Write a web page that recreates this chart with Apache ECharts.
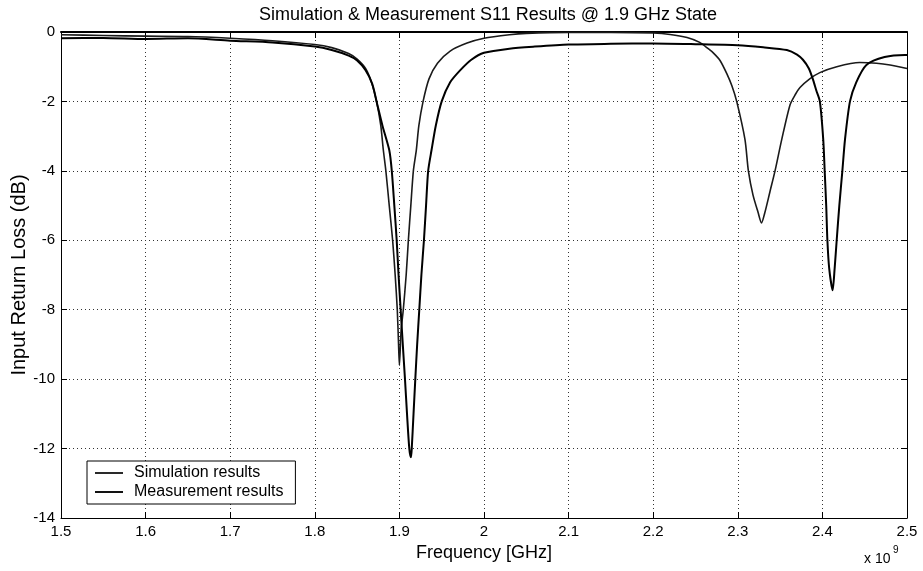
<!DOCTYPE html>
<html>
<head>
<meta charset="utf-8">
<script src="https://cdn.jsdelivr.net/npm/echarts@6/dist/echarts.min.js"></script>
<style>html,body{margin:0;padding:0;background:#fff}#c{width:923px;height:571px}</style>
</head>
<body>
<div id="c"></div>
<script>
// ---- data (frequency in GHz, axis labelled x 10^9 Hz) ----
const titleText = 'Simulation & Measurement S11 Results @ 1.9 GHz State';
const xTicks = [1.5, 1.6, 1.7, 1.8, 1.9, 2.0, 2.1, 2.2, 2.3, 2.4, 2.5];
const yTicks = [0, -2, -4, -6, -8, -10, -12, -14];
const seriesNames = ['Simulation results', 'Measurement results'];

const simFreq = [1.50,1.55,1.60,1.65,1.70,1.75,1.80,1.82,1.84,1.85,1.86,1.867,1.873,1.878,1.881,1.884,1.888,1.892,1.895,1.8975,1.899,1.900,1.902,1.9046,1.908,1.9106,1.9135,1.9165,1.920,1.923,1.928,1.935,1.945,1.96,1.98,2.00,2.03,2.05,2.10,2.15,2.20,2.22,2.24,2.255,2.265,2.271,2.279,2.287,2.293,2.2987,2.3085,2.3125,2.318,2.324,2.328,2.332,2.338,2.344,2.3519,2.3617,2.368,2.3735,2.385,2.397,2.417,2.444,2.464,2.48,2.50];
const simDb = [-0.08,-0.10,-0.12,-0.13,-0.18,-0.25,-0.36,-0.45,-0.62,-0.78,-1.05,-1.45,-2.0,-2.7,-3.4,-4.0,-5.0,-6.0,-7.0,-8.0,-9.0,-9.6,-8.6,-8.0,-7.0,-6.0,-5.0,-4.0,-3.4,-2.7,-2.0,-1.35,-0.9,-0.55,-0.32,-0.18,-0.08,-0.04,-0.01,-0.01,-0.03,-0.07,-0.16,-0.3,-0.48,-0.6,-0.82,-1.2,-1.55,-2.0,-3.1,-4.0,-4.7,-5.2,-5.5,-5.2,-4.6,-4.0,-3.1,-2.1,-1.8,-1.6,-1.35,-1.17,-1.0,-0.88,-0.9,-0.95,-1.05];

const measFreq = [1.50,1.55,1.60,1.65,1.70,1.75,1.80,1.82,1.84,1.85,1.86,1.868,1.873,1.880,1.888,1.891,1.894,1.8968,1.899,1.9015,1.904,1.9066,1.909,1.9117,1.9137,1.9146,1.9167,1.9188,1.921,1.9235,1.926,1.929,1.9315,1.934,1.938,1.943,1.950,1.960,1.972,1.985,2.00,2.03,2.06,2.10,2.15,2.20,2.25,2.30,2.33,2.358,2.37,2.377,2.384,2.389,2.393,2.397,2.401,2.4027,2.4045,2.4059,2.408,2.4121,2.4145,2.4169,2.420,2.4236,2.4267,2.4326,2.44,2.452,2.4735,2.4976,2.50];
const measDb = [-0.18,-0.17,-0.20,-0.18,-0.25,-0.30,-0.42,-0.52,-0.68,-0.82,-1.1,-1.5,-2.0,-2.7,-3.4,-4.0,-5.0,-6.0,-7.0,-8.0,-9.0,-10.0,-11.0,-12.0,-12.25,-12.0,-11.0,-10.0,-9.0,-8.0,-7.0,-6.0,-5.0,-4.0,-3.4,-2.7,-2.0,-1.45,-1.1,-0.8,-0.6,-0.48,-0.42,-0.36,-0.34,-0.33,-0.35,-0.38,-0.44,-0.52,-0.65,-0.8,-1.05,-1.38,-1.7,-2.0,-3.1,-4.0,-5.0,-6.0,-6.8,-7.44,-6.8,-6.0,-5.0,-4.0,-3.1,-2.0,-1.45,-0.95,-0.72,-0.66,-0.66];

// ---- chart ----
const FONT = "'Liberation Sans', Arial, sans-serif";
const chart = echarts.init(document.getElementById('c'), null, {renderer: 'canvas'});
const xMin = xTicks[0], xMax = xTicks[xTicks.length - 1];
const yMin = yTicks[yTicks.length - 1], yMax = yTicks[0];
const baseX = {
  type: 'value', min: xMin, max: xMax, interval: 0.1,
  axisLine: {show: true, onZero: false, lineStyle: {color: '#000', width: 1}},
  axisTick: {show: true, inside: true, length: 6, lineStyle: {color: '#000'}}
};
const baseY = {
  type: 'value', min: yMin, max: yMax, interval: 2,
  axisLine: {show: true, onZero: false, lineStyle: {color: '#000', width: 1}},
  axisTick: {show: true, inside: true, length: 6, lineStyle: {color: '#000'}}
};
const lineIcon = 'path://M0,0 L30,0 L30,2 L0,2 Z';

chart.setOption({
  animation: false,
  backgroundColor: '#fff',
  title: {
    text: titleText, left: 483, top: 1, textAlign: 'center',
    textStyle: {fontFamily: FONT, fontSize: 18, fontWeight: 'normal', color: '#000'}
  },
  grid: {left: 61, right: 16, top: 32, bottom: 53, containLabel: false, outerBoundsMode: 'none'},
  legend: {
    orient: 'vertical', left: 87, top: 461,
    backgroundColor: '#fff', borderColor: '#000', borderWidth: 1,
    padding: [4, 12, 4, 8], itemGap: 3, itemWidth: 28, itemHeight: 2,
    textStyle: {fontFamily: FONT, fontSize: 16, color: '#000', padding: [0, 0, 0, 6]},
    data: [{name: seriesNames[0], icon: lineIcon}, {name: seriesNames[1], icon: lineIcon}]
  },
  xAxis: [
    Object.assign({}, baseX, {
      position: 'bottom',
      name: 'Frequency [GHz]', nameLocation: 'middle', nameGap: 26, nameMoveOverlap: false,
      nameTextStyle: {fontFamily: FONT, fontSize: 18, color: '#000'},
      axisLabel: {
        margin: 6, fontFamily: FONT, fontSize: 15, color: '#000',
        formatter: v => xTicks.find(t => Math.abs(t - v) < 1e-6) !== undefined ? String(Math.round(v * 10) / 10) : ''
      },
      splitLine: {show: true, lineStyle: {color: '#333', type: [1, 3], width: 1}}
    }),
    Object.assign({}, baseX, {
      position: 'top', axisLabel: {show: false}, splitLine: {show: false},
      axisLine: {show: true, onZero: false, lineStyle: {color: '#000', width: 2}}
    })
  ],
  yAxis: [
    Object.assign({}, baseY, {
      position: 'left',
      name: 'Input Return Loss (dB)', nameLocation: 'middle', nameGap: 32, nameRotate: 90, nameMoveOverlap: false,
      nameTextStyle: {fontFamily: FONT, fontSize: 20, color: '#000'},
      axisLabel: {margin: 6, fontFamily: FONT, fontSize: 15, color: '#000'},
      splitLine: {show: true, lineStyle: {color: '#333', type: [1, 3], width: 1}}
    }),
    Object.assign({}, baseY, {position: 'right', axisLabel: {show: false}, splitLine: {show: false}})
  ],
  graphic: [
    {type: 'text', left: 864, top: 552, style: {text: 'x 10', fontFamily: FONT, fontSize: 14, fill: '#000'}},
    {type: 'text', left: 893, top: 545, style: {text: '9', fontFamily: FONT, fontSize: 10, fill: '#000'}}
  ],
  series: [
    {
      name: seriesNames[0], type: 'line', xAxisIndex: 0, yAxisIndex: 0,
      showSymbol: false, symbol: 'none', smooth: 0.25,
      lineStyle: {color: '#1a1a1a', width: 1.6},
      itemStyle: {color: '#1a1a1a'},
      data: simFreq.map((f, i) => [f, simDb[i]])
    },
    {
      name: seriesNames[1], type: 'line', xAxisIndex: 0, yAxisIndex: 0,
      showSymbol: false, symbol: 'none', smooth: 0.25,
      lineStyle: {color: '#000', width: 2},
      itemStyle: {color: '#000'},
      data: measFreq.map((f, i) => [f, measDb[i]])
    }
  ]
});
</script>
</body>
</html>
